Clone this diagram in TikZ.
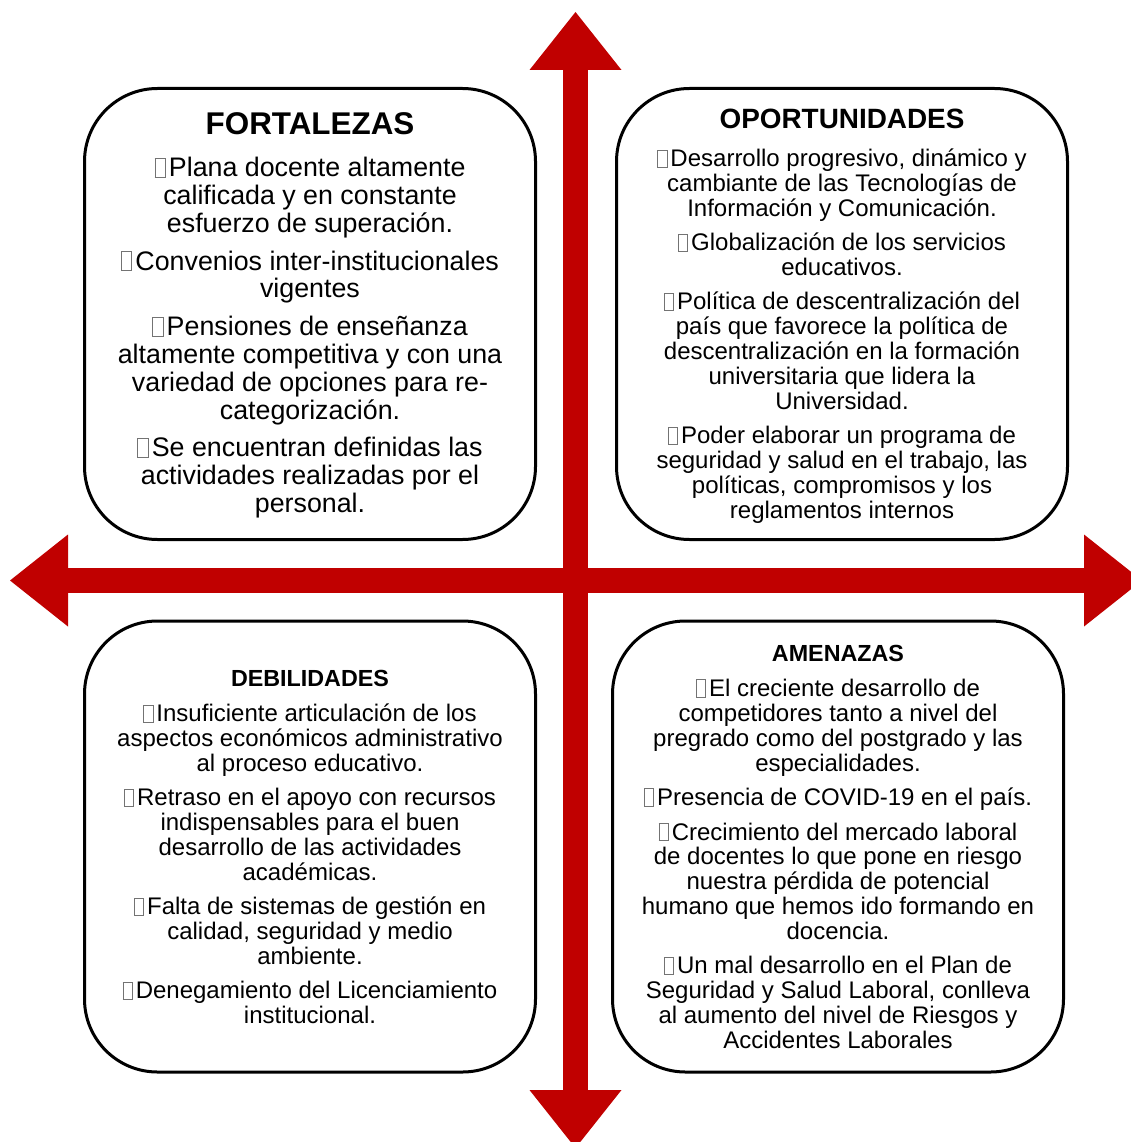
\documentclass[tikz,border=0pt]{standalone}
\usepackage{fontspec}
\setmainfont{Liberation Sans}
\usetikzlibrary{arrows.meta}
\definecolor{crossred}{HTML}{C00000}
% the empty glyph box in front of every item
\newcommand{\gapbox}{\textcolor{black!55}{\fboxsep0pt\fboxrule.8pt\fbox{\rule{0pt}{.68em}\hspace{.36em}}}\kern.12em}

\begin{document}
\begin{tikzpicture}[x=1pt, y=-1pt,
    quad/.style={rectangle, draw, line width=3pt, rounded corners=73pt, minimum width=451pt, minimum height=451pt},
    bigtitle/.style={inner sep=0pt, font=\fontsize{31.4pt}{33pt}\selectfont\bfseries},
    midtitle/.style={inner sep=0pt, font=\fontsize{27.9pt}{30pt}\selectfont\bfseries},
    smalltitle/.style={inner sep=0pt, font=\fontsize{23.3pt}{25pt}\selectfont\bfseries},
    bigbody/.style={inner sep=0pt, anchor=north, align=center, font=\fontsize{26.8pt}{27.8pt}\selectfont},
    smallbody/.style={inner sep=0pt, anchor=north, align=center, font=\fontsize{24pt}{24.8pt}\selectfont},
    crossarrow/.style={line width=25pt, draw=crossred, {Triangle[length=58pt, width=92pt, line width=0pt]}-{Triangle[length=58pt, width=92pt, line width=0pt]}}]
    \useasboundingbox (0,0) rectangle (1131,1142);

    % the red cross
    \coordinate (CrossTop) at (575.5,12);
    \coordinate (CrossBottom) at (575.5,1148);
    \coordinate (CrossLeft) at (10,580.5);
    \coordinate (CrossRight) at (1142,580.5);
    \draw[crossarrow] (CrossLeft) -- (CrossRight);
    \draw[crossarrow] (CrossTop) -- (CrossBottom);

    % the four quadrants
    \node at (310,314) [quad] (Fortalezas) {};
    \node at (842,314) [quad] (Oportunidades) {};
    \node at (310,846.5) [quad] (Debilidades) {};
    \node at (838,846.5) [quad] (Amenazas) {};

    \node at (310,124) [bigtitle] (FortalezasTitle) {FORTALEZAS};
    \node at (310,157) [bigbody] (FortalezasText) {\gapbox Plana docente altamente\\calificada y en constante\\esfuerzo de superación.\\[10pt]
        \gapbox Convenios inter-institucionales\\vigentes\\[10pt]
        \gapbox Pensiones de enseñanza\\altamente competitiva y con una\\variedad de opciones para re-\\categorización.\\[10pt]
        \gapbox Se encuentran definidas las\\actividades realizadas por el\\personal.};

    \node at (842,119) [midtitle] (OportunidadesTitle) {OPORTUNIDADES};
    \node at (842,149) [smallbody, font=\fontsize{24pt}{25pt}\selectfont] (OportunidadesText) {\gapbox Desarrollo progresivo, dinámico y\\cambiante de las Tecnologías de\\Información y Comunicación.\\[9pt]
        \gapbox Globalización de los servicios\\educativos.\\[9pt]
        \gapbox Política de descentralización del\\país que favorece la política de\\descentralización en la formación\\universitaria que lidera la\\Universidad.\\[9pt]
        \gapbox Poder elaborar un programa de\\seguridad y salud en el trabajo, las\\políticas, compromisos y los\\reglamentos internos};

    \node at (310,678) [smalltitle] (DebilidadesTitle) {DEBILIDADES};
    \node at (310,704) [smallbody] (DebilidadesText) {\gapbox Insuficiente articulación de los\\aspectos económicos administrativo\\al proceso educativo.\\[9.7pt]
        \gapbox Retraso en el apoyo con recursos\\indispensables para el buen\\desarrollo de las actividades\\académicas.\\[9.7pt]
        \gapbox Falta de sistemas de gestión en\\calidad, seguridad y medio\\ambiente.\\[9.7pt]
        \gapbox Denegamiento del Licenciamiento\\institucional.};

    \node at (838,653) [smalltitle] (AmenazasTitle) {AMENAZAS};
    \node at (838,679) [smallbody] (AmenazasText) {\gapbox El creciente desarrollo de\\competidores tanto a nivel del\\pregrado como del postgrado y las\\especialidades.\\[9.7pt]
        \gapbox Presencia de COVID-19 en el país.\\[9.7pt]
        \gapbox Crecimiento del mercado laboral\\de docentes lo que pone en riesgo\\nuestra pérdida de potencial\\humano que hemos ido formando en\\docencia.\\[9.7pt]
        \gapbox Un mal desarrollo en el Plan de\\Seguridad y Salud Laboral, conlleva\\al aumento del nivel de Riesgos y\\Accidentes Laborales};
\end{tikzpicture}
\end{document}
